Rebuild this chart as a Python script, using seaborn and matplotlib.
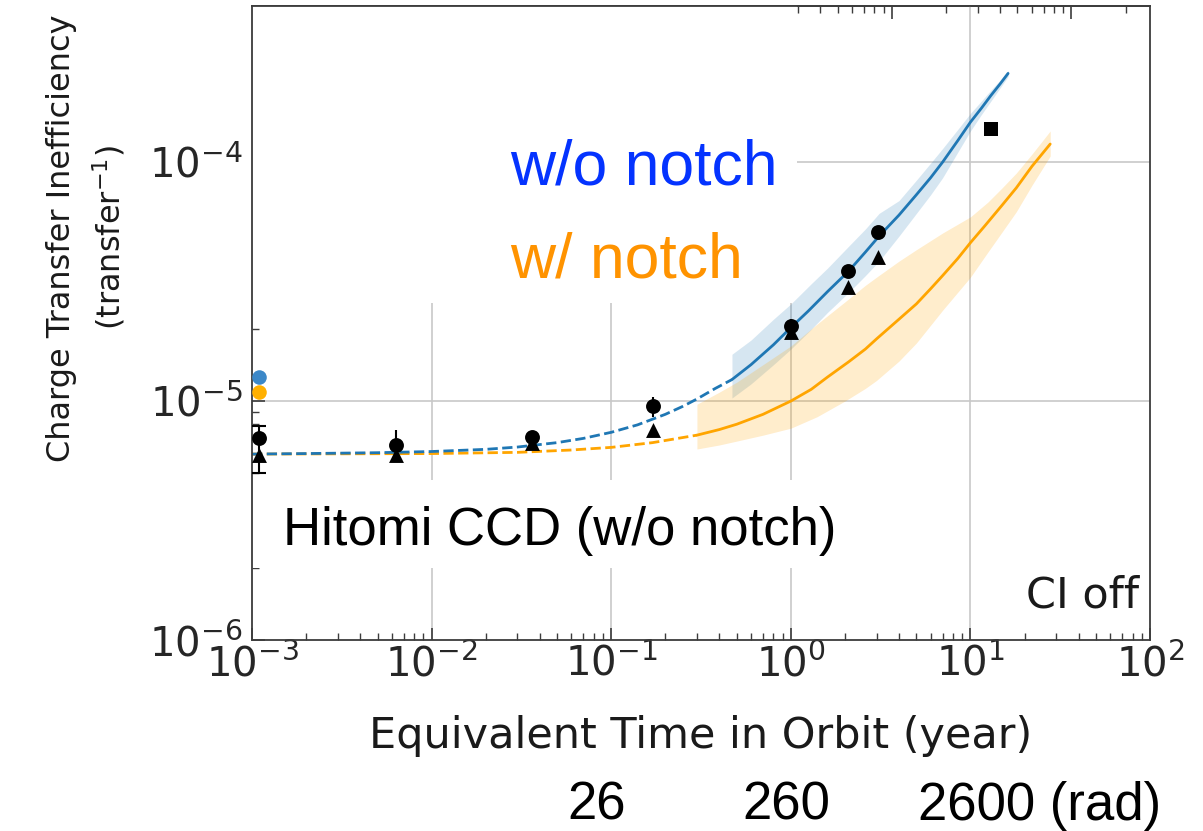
import numpy as np
import pandas as pd
import matplotlib
matplotlib.use("Agg")
import matplotlib.pyplot as plt
from matplotlib.patches import Rectangle
import seaborn as sns

# ---------------- data ----------------
circle_x = [1.1e-3, 6.3e-3, 3.6e-2, 0.17, 1.0, 2.07, 3.06]
circle_y = [7.0e-6, 6.55e-6, 7.06e-6, 9.5e-6, 2.07e-5, 3.49e-5, 5.08e-5]
circle_err_lo = [5.0e-6, 5.9e-6, 6.6e-6, 8.6e-6, 1.95e-5, 3.3e-5, 4.9e-5]
circle_err_hi = [7.9e-6, 7.6e-6, 7.5e-6, 1.04e-5, 2.2e-5, 3.65e-5, 5.25e-5]
triangle_x = [1.1e-3, 6.3e-3, 3.6e-2, 0.17, 1.0, 2.07, 3.06]
triangle_y = [5.95e-6, 5.95e-6, 6.7e-6, 7.6e-6, 1.94e-5, 3.0e-5, 4.0e-5]
square_x = [13.0]
square_y = [1.37e-4]
ref_x = [1.1e-3]
ref_blue_y = [1.26e-5]
ref_orange_y = [1.09e-5]

blue_x = [0.001, 0.002, 0.005, 0.01, 0.02, 0.03, 0.05, 0.07, 0.1, 0.14, 0.2,
          0.25, 0.3, 0.38, 0.47, 0.6, 0.8, 1.0, 1.25, 1.6, 2.1, 2.6, 3.1, 4.0,
          5.0, 6.0, 7.0, 8.5, 10, 11.5, 13, 14.6, 16.2]
blue_y = [6.0e-6, 6.03e-6, 6.08e-6, 6.15e-6, 6.28e-6, 6.42e-6, 6.7e-6, 6.98e-6,
          7.4e-6, 7.95e-6, 8.8e-6, 9.5e-6, 1.02e-5, 1.13e-5, 1.23e-5, 1.42e-5,
          1.72e-5, 2.03e-5, 2.38e-5, 2.87e-5, 3.5e-5, 4.2e-5, 4.9e-5, 6.0e-5,
          7.3e-5, 8.6e-5, 1.0e-4, 1.23e-4, 1.47e-4, 1.68e-4, 1.9e-4, 2.12e-4,
          2.35e-4]
blue_solid_from = 0.47
blue_band_x = [0.47, 0.6, 0.8, 1.0, 1.3, 1.6, 2.1, 2.6, 3.1, 4.0, 5.0, 6.0,
               7.0, 8.5, 10, 11.5, 13, 14.6, 16.2]
blue_band_lo = [1.03e-5, 1.18e-5, 1.42e-5, 1.65e-5, 2.0e-5, 2.35e-5, 2.85e-5,
                3.35e-5, 3.85e-5, 4.9e-5, 6.1e-5, 7.3e-5, 8.6e-5, 1.1e-4,
                1.35e-4, 1.58e-4, 1.8e-4, 2.04e-4, 2.28e-4]
blue_band_hi = [1.57e-5, 1.8e-5, 2.2e-5, 2.55e-5, 3.1e-5, 3.6e-5, 4.45e-5,
                5.25e-5, 6.1e-5, 6.9e-5, 8.4e-5, 9.9e-5, 1.14e-4, 1.37e-4,
                1.6e-4, 1.8e-4, 2.0e-4, 2.2e-4, 2.42e-4]

orange_x = [0.001, 0.01, 0.03, 0.06, 0.1, 0.17, 0.3, 0.4, 0.5, 0.7, 1.0, 1.3,
            1.6, 2.1, 2.6, 3.0, 4.0, 5.0, 6.0, 7.0, 8.5, 10, 12, 15, 18, 22,
            27.8]
orange_y = [6.0e-6, 6.03e-6, 6.1e-6, 6.24e-6, 6.4e-6, 6.7e-6, 7.2e-6, 7.6e-6,
            8.0e-6, 8.8e-6, 1.0e-5, 1.12e-5, 1.26e-5, 1.46e-5, 1.65e-5,
            1.82e-5, 2.2e-5, 2.55e-5, 2.95e-5, 3.35e-5, 3.95e-5, 4.6e-5,
            5.4e-5, 6.6e-5, 7.8e-5, 9.6e-5, 1.19e-4]
orange_solid_from = 0.3
orange_band_x = [0.3, 0.4, 0.5, 0.7, 1.0, 1.4, 2.0, 2.6, 3.0, 4.0, 5.0, 7.0,
                 10, 12.5, 15, 18, 22, 27.8]
orange_band_lo = [6.3e-6, 6.55e-6, 6.8e-6, 7.2e-6, 7.7e-6, 8.6e-6, 1.0e-5,
                  1.13e-5, 1.22e-5, 1.47e-5, 1.75e-5, 2.4e-5, 3.3e-5, 4.2e-5,
                  5.1e-5, 6.2e-5, 8.0e-5, 1.06e-4]
orange_band_hi = [9.7e-6, 1.09e-5, 1.2e-5, 1.42e-5, 1.7e-5, 2.1e-5, 2.6e-5,
                  3.05e-5, 3.3e-5, 3.85e-5, 4.3e-5, 5.05e-5, 5.9e-5, 6.8e-5,
                  7.8e-5, 9.0e-5, 1.08e-4, 1.35e-4]

RAD_PER_YEAR = 274.0
rad_labels = ["26", "260", "2600 (rad)"]

x_limits = (1e-3, 1e2)
y_limits = (1e-6, 4.5e-4)

# ---------------- styling ----------------
sns.set_theme(style="white")
plt.rcParams["font.family"] = ["DejaVu Sans"]
plt.rcParams["mathtext.fontset"] = "dejavusans"

BLUE = "#1f77b4"
ORANGE = "#ffa500"
GRID = "#c8c8c8"
SPINE = "#3c3c3c"

fig = plt.figure(figsize=(12.03, 8.31), dpi=100)
ax = fig.add_axes([0.2095, 0.2298, 0.7465, 0.763])
ax.set_xscale("log")
ax.set_yscale("log")
ax.set_xlim(*x_limits)
ax.set_ylim(*y_limits)

# grid drawn under the white label boxes
for gx in [1e-2, 1e-1, 1e0, 1e1]:
    ax.axvline(gx, color=GRID, lw=1.2, zorder=0.5)
for gy in [1e-5, 1e-4]:
    ax.axhline(gy, color=GRID, lw=1.2, zorder=0.5)
ax.add_patch(Rectangle((0, 0.5315), 0.607, 0.4685, transform=ax.transAxes,
                       facecolor="white", edgecolor="none", zorder=0.8))
ax.add_patch(Rectangle((0, 0.1136), 0.688, 0.1384, transform=ax.transAxes,
                       facecolor="white", edgecolor="none", zorder=0.8))

# uncertainty bands
ax.fill_between(blue_band_x, blue_band_lo, blue_band_hi, color=BLUE,
                alpha=0.18, lw=0, zorder=1)
ax.fill_between(orange_band_x, orange_band_lo, orange_band_hi, color=ORANGE,
                alpha=0.2, lw=0, zorder=1)

# model curves: dashed (extrapolated) and solid parts
def split(xs, ys, x0):
    xs = np.asarray(xs, float); ys = np.asarray(ys, float)
    d = xs <= x0 * 1.0001
    s = xs >= x0 * 0.9999
    return xs[d], ys[d], xs[s], ys[s]

bxd, byd, bxs, bys = split(blue_x, blue_y, blue_solid_from)
oxd, oyd, oxs, oys = split(orange_x, orange_y, orange_solid_from)

LW = 2.0
sns.lineplot(x=oxd, y=oyd, ax=ax, color=ORANGE, lw=LW, linestyle="--",
             errorbar=None, zorder=2)
sns.lineplot(x=oxs, y=oys, ax=ax, color=ORANGE, lw=LW, errorbar=None, zorder=2)
sns.lineplot(x=bxd, y=byd, ax=ax, color=BLUE, lw=LW, linestyle="--",
             errorbar=None, zorder=2.1)
sns.lineplot(x=bxs, y=bys, ax=ax, color=BLUE, lw=LW, errorbar=None, zorder=2.1)

# error bars on circle data
cy = np.asarray(circle_y)
yerr = np.vstack([cy - np.asarray(circle_err_lo), np.asarray(circle_err_hi) - cy])
ax.errorbar(circle_x[:1], circle_y[:1], yerr=yerr[:, :1], fmt="none",
            ecolor="black", elinewidth=1.5, capsize=5, capthick=1.5, zorder=3)
ax.errorbar(circle_x[1:], circle_y[1:], yerr=yerr[:, 1:], fmt="none",
            ecolor="black", elinewidth=1.5, capsize=0, zorder=3)

# data points
sns.scatterplot(x=triangle_x, y=triangle_y, ax=ax, marker="^", s=115,
                color="black", edgecolor="black", linewidth=0, zorder=4)
sns.scatterplot(x=circle_x, y=circle_y, ax=ax, marker="o", s=115,
                color="black", edgecolor="black", linewidth=0, zorder=4)
sns.scatterplot(x=square_x, y=square_y, ax=ax, marker="s", s=100,
                color="black", edgecolor="black", linewidth=0, zorder=4)
sns.scatterplot(x=ref_x, y=ref_blue_y, ax=ax, marker="o", s=110,
                color="#3c88c8", linewidth=0, zorder=4)
sns.scatterplot(x=ref_x, y=ref_orange_y, ax=ax, marker="o", s=110,
                color="#ffb000", linewidth=0, zorder=4)

ax.set_xlim(*x_limits)
ax.set_ylim(*y_limits)

# axes styling
for sp in ax.spines.values():
    sp.set_color(SPINE)
    sp.set_linewidth(1.3)
ax.tick_params(which="major", direction="in", length=9, width=1.2,
               color=SPINE, labelsize=29, top=False, right=False,
               left=True, bottom=True)
ax.tick_params(which="minor", direction="in", length=5, width=1.0,
               color=SPINE, top=False, right=False, left=True, bottom=True)
ax.tick_params(axis="x", which="major", pad=3)
ax.tick_params(axis="y", which="major", pad=7)

secax = ax.secondary_xaxis("top", functions=(lambda x: x * RAD_PER_YEAR,
                                             lambda x: x / RAD_PER_YEAR))
secax.tick_params(which="major", direction="in", length=9, width=1.2,
                  color=SPINE, labeltop=False)
secax.tick_params(which="minor", direction="in", length=5, width=1.0,
                  color=SPINE)
secax.spines["top"].set_color(SPINE)
secax.spines["top"].set_linewidth(1.3)

ax.set_xlabel("Equivalent Time in Orbit (year)", fontsize=31, color="#1a1a1a")
ax.xaxis.set_label_coords(0.5, -0.118)
ax.set_ylabel("Charge Transfer Inefficiency\n(transfer$^{-1}$)", fontsize=23,
              color="#1a1a1a", linespacing=1.45)
ax.yaxis.set_label_coords(-0.139, 0.634)

# annotations
ax.text(0.287, 0.7177, "w/o notch", transform=ax.transAxes, fontsize=45,
        family="Liberation Sans", color="#0433ff", ha="left", va="baseline")
ax.text(0.287, 0.571, "w/ notch", transform=ax.transAxes, fontsize=45,
        family="Liberation Sans", color="#ff9300", ha="left", va="baseline")
ax.text(0.0345, 0.15, "Hitomi CCD (w/o notch)", transform=ax.transAxes,
        fontsize=38, family="Liberation Sans", color="black", ha="left",
        va="baseline")
ax.text(0.988, 0.052, "CI off", transform=ax.transAxes, fontsize=31,
        color="#1a1a1a", ha="right", va="baseline")

for xf, lab in zip([0.4713, 0.6168, 0.7631], rad_labels):
    fig.text(xf, 1 - 820 / 831, lab, fontsize=38, family="Liberation Sans",
             color="black", ha="left", va="baseline")

fig.savefig("out.png", dpi=100)
